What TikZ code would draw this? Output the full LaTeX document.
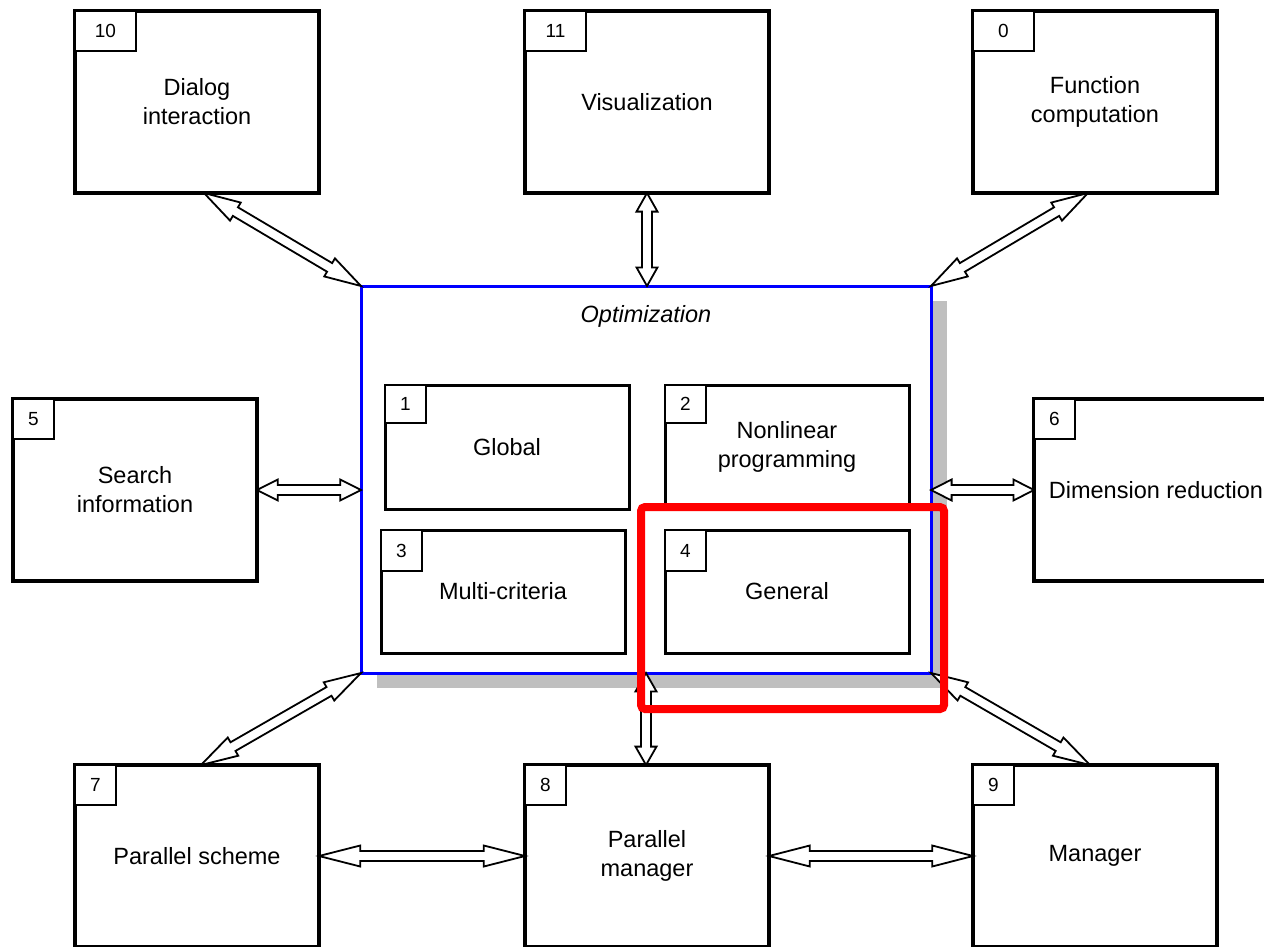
\documentclass[tikz,border=0pt]{standalone}
\usepackage{fontspec}
\setmainfont{Liberation Sans}
\usetikzlibrary{calc,shadows}
\newcommand\fmain{\fontsize{23.5}{29}\selectfont}
\newcommand\fnum{\fontsize{19}{22}\selectfont}
\newcommand\hollowarrow[2]{%
  \path (#1) coordinate (h1) (#2) coordinate (h2);
  \path ($(h1)!0.2!(h2)$) coordinate (m1) ($(h1)!0.8!(h2)$) coordinate (m2);
  \draw[harrow] (h1) -- ($(m1)!10.5pt!90:(h2)$) -- ($(m1)!5pt!90:(h2)$)
    -- ($(m2)!5pt!-90:(h1)$) -- ($(m2)!10.5pt!-90:(h1)$) -- (h2)
    -- ($(m2)!10.5pt!90:(h1)$) -- ($(m2)!5pt!90:(h1)$)
    -- ($(m1)!5pt!-90:(h2)$) -- ($(m1)!10.5pt!-90:(h2)$) -- cycle;}
\tikzset{
  bigbox/.style={draw, line width=4pt, fill=white, minimum width=244pt, minimum height=182pt,
    anchor=north west, inner sep=0pt, outer sep=0pt, align=center, font=\fmain},
  innerbox/.style={draw, line width=3pt, fill=white, minimum width=244pt, minimum height=124pt,
    anchor=north west, inner sep=0pt, outer sep=0pt, align=center, font=\fmain},
  numbox/.style={draw, line width=2pt, fill=white, minimum width=41pt, minimum height=40pt,
    anchor=north west, inner sep=0pt, outer sep=0pt, font=\fnum},
  harrow/.style={draw=black, line width=1.8pt, fill=white, line join=miter},
}
\begin{document}
\begin{tikzpicture}[x=1pt,y=-1pt]
\useasboundingbox (0,0) rectangle (1264,946);
\clip (0,0) rectangle (1264,946);
% outer boxes
\node[bigbox] (b10) at (75,11) {Dialog\\interaction};
\node[numbox, minimum width=61pt] (n10) at (b10.north west) {10};
\node[bigbox] (b11) at (525,11) {Visualization};
\node[numbox, minimum width=61pt] (n11) at (b11.north west) {11};
\node[bigbox] (b0) at (973,11) {Function\\computation};
\node[numbox, minimum width=61pt] (n0) at (b0.north west) {0};
\node[bigbox] (b5) at (13,399) {Search\\information};
\node[numbox] (n5) at (b5.north west) {5};
\node[bigbox] (b6) at (1034,399) {Dimension reduction};
\node[numbox] (n6) at (b6.north west) {6};
\node[bigbox] (b7) at (75,765) {Parallel scheme};
\node[numbox] (n7) at (b7.north west) {7};
\node[bigbox] (b8) at (525,765) {Parallel\\manager};
\node[numbox] (n8) at (b8.north west) {8};
\node[bigbox] (b9) at (973,765) {Manager};
\node[numbox] (n9) at (b9.north west) {9};
% optimization container
\node[draw=blue, line width=3pt, fill=white, minimum width=570pt, minimum height=387pt,
  anchor=north west, inner sep=0pt, outer sep=0pt,
  drop shadow={shadow xshift=16pt, shadow yshift=-15pt, fill=black!25, opacity=1}]
  (opt) at (361,286) {};
\node[font=\fmain\itshape] (optt) at (646,316) {Optimization};
\node[innerbox] (i1) at (385,385) {Global};
\node[numbox, minimum width=41pt, minimum height=38pt] (k1) at (i1.north west) {1};
\node[innerbox] (i2) at (665,385) {Nonlinear\\programming};
\node[numbox, minimum width=41pt, minimum height=38pt] (k2) at (i2.north west) {2};
\node[innerbox, minimum height=123pt] (i3) at (381,530) {Multi-criteria};
\node[numbox, minimum width=41pt, minimum height=41pt] (k3) at (i3.north west) {3};
\node[innerbox, minimum height=123pt] (i4) at (665,530) {General};
\node[numbox, minimum width=41pt, minimum height=41pt] (k4) at (i4.north west) {4};
% connector end points
\coordinate (p10) at ([xshift=7pt]b10.south);
\coordinate (p0) at ([xshift=-7pt]b0.south);
\coordinate (p7) at ([xshift=4pt]b7.north);
\coordinate (p9) at ([xshift=-5pt]b9.north);
\coordinate (q11) at (b11.south |- opt.north);
\coordinate (q5) at (b5.east -| opt.west);
\coordinate (q6) at (b6.west -| opt.east);
\coordinate (q8) at (opt.south |- b8.north);
% connectors
\hollowarrow{p10}{opt.north west}
\hollowarrow{b11.south}{q11}
\hollowarrow{p0}{opt.north east}
\hollowarrow{b5.east}{q5}
\hollowarrow{q6}{b6.west}
\hollowarrow{p7}{opt.south west}
\hollowarrow{opt.south}{q8}
\hollowarrow{opt.south east}{p9}
\hollowarrow{b7.east}{b8.west}
\hollowarrow{b8.east}{b9.west}
% highlight
\node[draw=red, line width=8pt, rounded corners=4pt, minimum width=303pt, minimum height=202pt,
  anchor=north west, inner sep=0pt, outer sep=0pt] (hl) at (641,507) {};
\end{tikzpicture}
\end{document}
